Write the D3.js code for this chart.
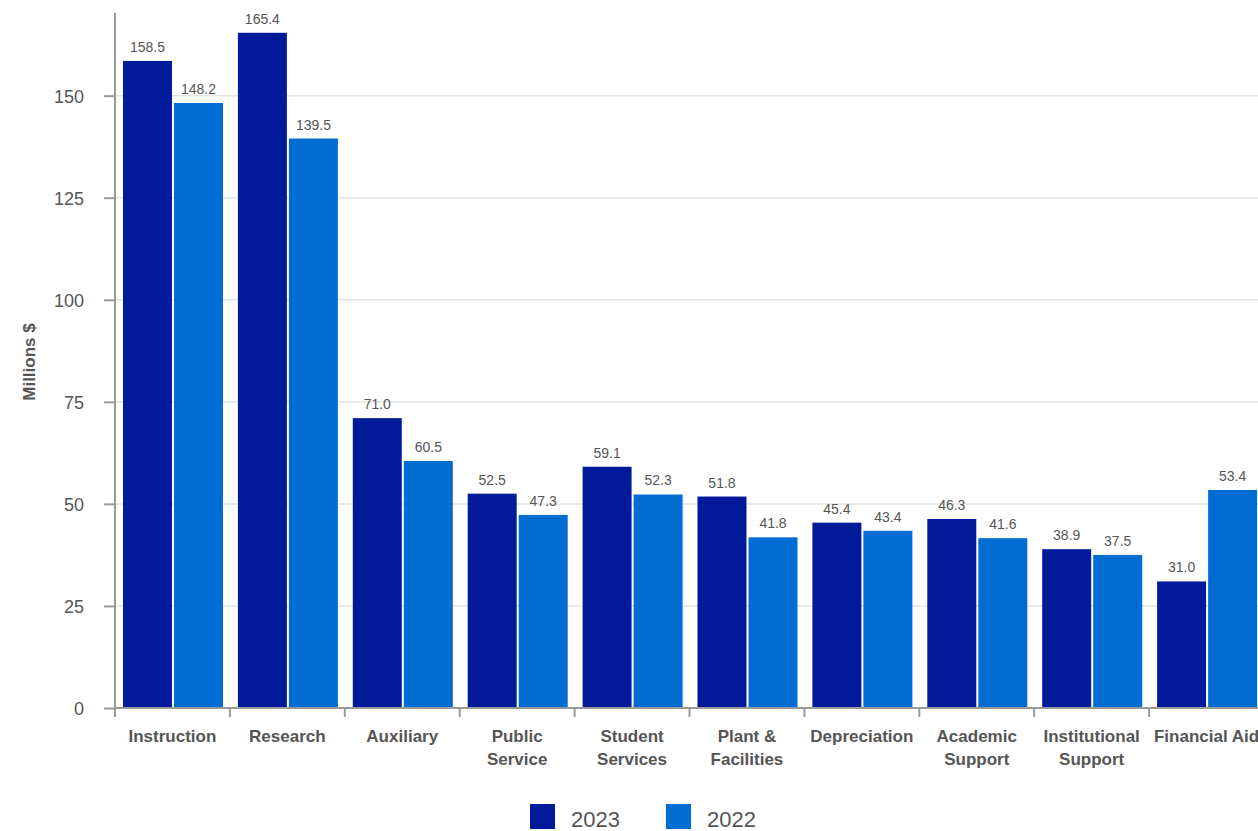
<!DOCTYPE html>
<html>
<head>
<meta charset="utf-8">
<script src="https://cdn.jsdelivr.net/npm/d3@7"></script>
<style>
	body { margin: 0; background: #fff; }
	svg { display: block; font-family: "Liberation Sans", Arial, sans-serif; }
</style>
</head>
<body>
<div id="chart"></div>
<script>

///////////////////////////////////////////////////////////////////////////
//////////////////////////////// The data /////////////////////////////////
///////////////////////////////////////////////////////////////////////////

var categories = ["Instruction", "Research", "Auxiliary", "Public Service", "Student Services",
	"Plant & Facilities", "Depreciation", "Academic Support", "Institutional Support", "Financial Aid"];
//How each category label is broken into lines
var categoryLines = [["Instruction"], ["Research"], ["Auxiliary"], ["Public", "Service"], ["Student", "Services"],
	["Plant &", "Facilities"], ["Depreciation"], ["Academic", "Support"], ["Institutional", "Support"], ["Financial Aid"]];
var years = ["2023", "2022"];
var values2023 = [158.5, 165.4, 71.0, 52.5, 59.1, 51.8, 45.4, 46.3, 38.9, 31.0];
var values2022 = [148.2, 139.5, 60.5, 47.3, 52.3, 41.8, 43.4, 41.6, 37.5, 53.4];
var yTicks = [0, 25, 50, 75, 100, 125, 150];
var colors = ["#001a9a", "#016cd1"];

///////////////////////////////////////////////////////////////////////////
//////////////////////////// Set up the SVG ///////////////////////////////
///////////////////////////////////////////////////////////////////////////

var width = 1258,
	height = 831;

var plotLeft = 115,
	plotTop = 14,
	plotBottom = 708;

var svg = d3.select("#chart")
	.append("svg")
	.attr("width", width)
	.attr("height", height);

//The bands run a little past the right edge, so the last bar gets clipped like the original
var x0 = d3.scaleBand()
	.domain(categories)
	.range([plotLeft, plotLeft + 10 * 114.9]);

var x1 = d3.scaleBand()
	.domain(years)
	.range([8, 108])
	.paddingInner(0.04);

var y = d3.scaleLinear()
	.domain([0, 170])
	.range([plotBottom, plotTop]);

var data = categories.map(function(c, i) {
	return { category: c, values: [
		{ year: "2023", value: values2023[i] },
		{ year: "2022", value: values2022[i] }
	]};
});

///////////////////////////////////////////////////////////////////////////
/////////////////////////////// Gridlines /////////////////////////////////
///////////////////////////////////////////////////////////////////////////

svg.append("g")
	.attr("class", "grid")
	.selectAll("line")
	.data(yTicks.filter(function(d) { return d > 0; }))
	.enter().append("line")
	.attr("x1", plotLeft)
	.attr("x2", width)
	.attr("y1", function(d) { return y(d); })
	.attr("y2", function(d) { return y(d); })
	.style("stroke", "#e3e3e3")
	.style("stroke-width", 1.5);

///////////////////////////////////////////////////////////////////////////
///////////////////////////////// Bars ////////////////////////////////////
///////////////////////////////////////////////////////////////////////////

var groups = svg.selectAll(".category")
	.data(data)
	.enter().append("g")
	.attr("class", "category")
	.attr("transform", function(d) { return "translate(" + x0(d.category) + ",0)"; });

groups.selectAll("rect")
	.data(function(d) { return d.values; })
	.enter().append("rect")
	.attr("x", function(d) { return x1(d.year); })
	.attr("width", x1.bandwidth())
	.attr("y", function(d) { return y(d.value); })
	.attr("height", function(d) { return y(0) - y(d.value); })
	.style("fill", function(d, i) { return colors[i]; });

//Value labels on top of the bars
groups.selectAll(".value-label")
	.data(function(d) { return d.values; })
	.enter().append("text")
	.attr("class", "value-label")
	.attr("x", function(d) { return x1(d.year) + x1.bandwidth() / 2; })
	.attr("y", function(d) { return y(d.value) - 9; })
	.attr("text-anchor", "middle")
	.style("font-size", "14px")
	.style("fill", "#555")
	.text(function(d) { return d3.format(".1f")(d.value); });

///////////////////////////////////////////////////////////////////////////
///////////////////////////////// Axes ////////////////////////////////////
///////////////////////////////////////////////////////////////////////////

var yAxis = svg.append("g")
	.attr("transform", "translate(" + plotLeft + ",0)")
	.call(d3.axisLeft(y).tickValues(yTicks).tickSize(11).tickPadding(20));

yAxis.select(".domain").attr("d", "M0," + (plotTop - 1) + "V" + (plotBottom + 9));
yAxis.selectAll(".domain, .tick line").style("stroke", "#999").style("stroke-width", 2);
yAxis.selectAll(".tick text")
	.style("font-family", "'Liberation Sans', Arial, sans-serif")
	.style("font-size", "18px")
	.style("fill", "#555")
	.attr("dy", "0.36em");

//Bottom axis: separators between categories
var xAxis = svg.append("g").attr("class", "x-axis");

xAxis.append("line")
	.attr("x1", plotLeft)
	.attr("x2", width)
	.attr("y1", plotBottom)
	.attr("y2", plotBottom)
	.style("stroke", "#999")
	.style("stroke-width", 2);

xAxis.selectAll(".sep")
	.data(categories)
	.enter().append("line")
	.attr("class", "sep")
	.attr("x1", function(d) { return x0(d); })
	.attr("x2", function(d) { return x0(d); })
	.attr("y1", plotBottom)
	.attr("y2", plotBottom + 9)
	.style("stroke", "#999")
	.style("stroke-width", 2);

xAxis.selectAll(".cat-label")
	.data(categories)
	.enter().append("text")
	.attr("class", "cat-label")
	.attr("x", function(d) { return x0(d) + x0.bandwidth() / 2; })
	.attr("y", 742)
	.attr("text-anchor", "middle")
	.style("font-size", "17px")
	.style("font-weight", "bold")
	.style("fill", "#555")
	.each(function(d, i) {
		var el = d3.select(this);
		categoryLines[i].forEach(function(line, j) {
			el.append("tspan")
				.attr("x", x0(d) + x0.bandwidth() / 2)
				.attr("dy", j === 0 ? 0 : 23)
				.text(line);
		});
	});

//Y axis title
svg.append("text")
	.attr("transform", "translate(35,362) rotate(-90)")
	.attr("text-anchor", "middle")
	.style("font-size", "17px")
	.style("font-weight", "bold")
	.style("fill", "#555")
	.text("Millions $");

///////////////////////////////////////////////////////////////////////////
//////////////////////////////// Legend ///////////////////////////////////
///////////////////////////////////////////////////////////////////////////

var legend = svg.selectAll(".legend")
	.data(years)
	.enter().append("g")
	.attr("class", "legend")
	.attr("transform", function(d, i) { return "translate(" + (530 + i * 136) + ",804)"; });

legend.append("rect")
	.attr("width", 25)
	.attr("height", 25)
	.style("fill", function(d, i) { return colors[i]; });

legend.append("text")
	.attr("x", 41)
	.attr("y", 23)
	.style("font-size", "22px")
	.style("fill", "#555")
	.text(function(d) { return d; });

</script>
</body>
</html>
